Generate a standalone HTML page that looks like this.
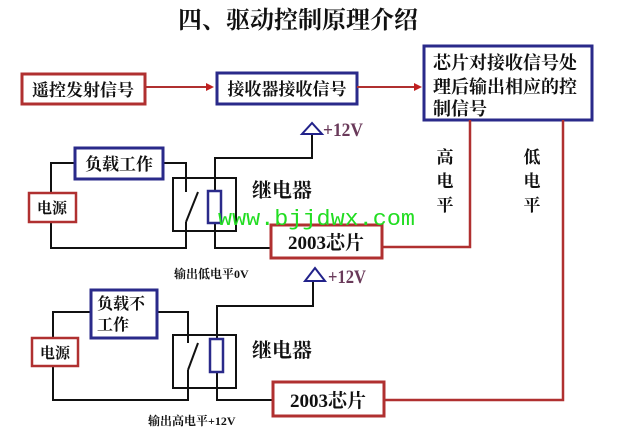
<!DOCTYPE html>
<html><head><meta charset="utf-8"><style>
html,body{margin:0;padding:0;background:#fff;}
svg{display:block;}
.t{font-family:"Liberation Serif","Noto Serif CJK SC",serif;font-weight:bold;fill:#111;}
</style></head><body>
<svg width="635" height="433" viewBox="0 0 635 433" xmlns="http://www.w3.org/2000/svg">
<text class="t" x="298" y="28" font-size="24" text-anchor="middle">四、驱动控制原理介绍</text>

<!-- top flow -->
<rect x="22" y="74" width="123" height="30" fill="none" stroke="#b03030" stroke-width="3"/>
<text class="t" x="83" y="96" font-size="17" text-anchor="middle">遥控发射信号</text>
<line x1="145" y1="87" x2="208" y2="87" stroke="#b03030" stroke-width="2"/>
<polygon points="214,87 206,83 206,91" fill="#c02020"/>
<rect x="217" y="73" width="140" height="31" fill="none" stroke="#2a2a8a" stroke-width="3"/>
<text class="t" x="287" y="95" font-size="17" text-anchor="middle">接收器接收信号</text>
<line x1="357" y1="87" x2="416" y2="87" stroke="#b03030" stroke-width="2"/>
<polygon points="422,87 414,83 414,91" fill="#c02020"/>
<rect x="424" y="46" width="168" height="74" fill="none" stroke="#2a2a8a" stroke-width="3"/>
<text class="t" x="433" y="69" font-size="18">芯片对接收信号处</text>
<text class="t" x="433" y="93" font-size="18">理后输出相应的控</text>
<text class="t" x="433" y="115" font-size="18">制信号</text>

<!-- red lines -->
<polyline points="470,120 470,247 382,247" fill="none" stroke="#b03030" stroke-width="2.5"/>
<polyline points="563,120 563,400 385,400" fill="none" stroke="#b03030" stroke-width="2.5"/>
<text class="t" x="445" y="163" font-size="17" text-anchor="middle">高</text>
<text class="t" x="445" y="187" font-size="17" text-anchor="middle">电</text>
<text class="t" x="445" y="211" font-size="17" text-anchor="middle">平</text>
<text class="t" x="532" y="163" font-size="17" text-anchor="middle">低</text>
<text class="t" x="532" y="187" font-size="17" text-anchor="middle">电</text>
<text class="t" x="532" y="211" font-size="17" text-anchor="middle">平</text>

<!-- upper circuit -->
<g fill="none" stroke="#111" stroke-width="2">
<polyline points="312,134 312,158 215,158 215,248 270,248"/>
<polyline points="75,163 51,163 51,248 186,248 186,222"/>
<polyline points="163,163 186,163 186,192"/>
<line x1="198" y1="192" x2="186" y2="222"/>
<rect x="173" y="178" width="63" height="53"/>
<polyline points="313,272 313,306 217,306 217,400 272,400"/>
<polyline points="90,312 53,312 53,400 188,400 188,370"/>
<polyline points="157,312 188,312 188,343"/>
<line x1="198" y1="343" x2="188" y2="370"/>
<rect x="173" y="335" width="63" height="53"/>
</g>
<polygon points="312,123 302,134 322,134" fill="#fff" stroke="#22228a" stroke-width="2"/>
<text x="323" y="136" font-family="Liberation Serif,serif" font-weight="bold" font-size="19" fill="#6a3a5a" textLength="40" lengthAdjust="spacingAndGlyphs">+12V</text>
<polygon points="315,268 305,281 325,281" fill="#fff" stroke="#22228a" stroke-width="2"/>
<text x="328" y="283" font-family="Liberation Serif,serif" font-weight="bold" font-size="19" fill="#6a3a5a" textLength="38" lengthAdjust="spacingAndGlyphs">+12V</text>

<rect x="75" y="148" width="88" height="31" fill="#fff" stroke="#2a2a8a" stroke-width="3"/>
<text class="t" x="119" y="170" font-size="17" text-anchor="middle">负载工作</text>
<rect x="208" y="191" width="13" height="32" fill="#fff" stroke="#2a2a8a" stroke-width="2.5"/>
<rect x="29" y="193" width="47" height="29" fill="#fff" stroke="#b03030" stroke-width="2.5"/>
<text class="t" x="52" y="213" font-size="15" text-anchor="middle">电源</text>
<text class="t" x="252" y="197" font-size="20">继电器</text>
<rect x="271" y="225" width="111" height="33" fill="#fff" stroke="#b03030" stroke-width="3"/>
<text class="t" x="326" y="249" font-size="19" text-anchor="middle">2003芯片</text>
<text x="218" y="225" font-family="Liberation Mono,monospace" font-size="22" fill="#22dd22" textLength="197" lengthAdjust="spacingAndGlyphs">www.bjjdwx.com</text>

<text class="t" x="174" y="278" font-size="12">输出低电平0V</text>

<!-- lower circuit -->
<rect x="91" y="290" width="66" height="48" fill="#fff" stroke="#2a2a8a" stroke-width="3"/>
<text class="t" x="97" y="309" font-size="16">负载不</text>
<text class="t" x="97" y="330" font-size="16">工作</text>
<rect x="210" y="339" width="13" height="33" fill="#fff" stroke="#2a2a8a" stroke-width="2.5"/>
<rect x="32" y="338" width="46" height="28" fill="#fff" stroke="#b03030" stroke-width="2.5"/>
<text class="t" x="55" y="358" font-size="15" text-anchor="middle">电源</text>
<text class="t" x="252" y="357" font-size="20">继电器</text>
<rect x="273" y="382" width="111" height="34" fill="#fff" stroke="#b03030" stroke-width="3"/>
<text class="t" x="328" y="407" font-size="19" text-anchor="middle">2003芯片</text>
<text class="t" x="148" y="425" font-size="12">输出高电平+12V</text>
</svg>
</body></html>
